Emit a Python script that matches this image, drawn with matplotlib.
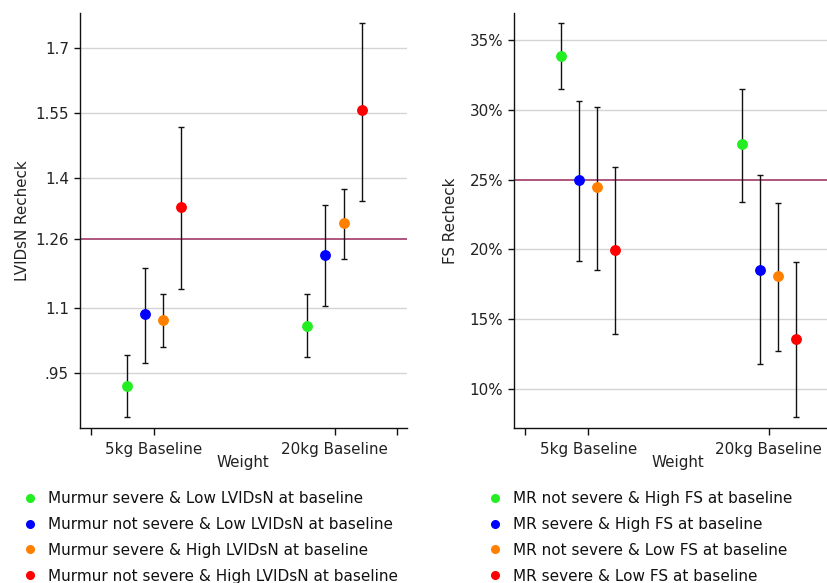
import matplotlib
matplotlib.use("Agg")
import matplotlib.pyplot as plt
from matplotlib.lines import Line2D

plt.rcParams['font.family'] = ['DejaVu Sans']

# ---------------- data ----------------
categories = ["5kg Baseline", "20kg Baseline"]
offsets = [-0.15, -0.05, 0.05, 0.15]
colors = ["#22ee22", "#0000ff", "#ff8000", "#ff0000"]

lv_labels = ["Murmur severe & Low LVIDsN at baseline",
             "Murmur not severe & Low LVIDsN at baseline",
             "Murmur severe & High LVIDsN at baseline",
             "Murmur not severe & High LVIDsN at baseline"]
# per series: [5kg, 20kg]
lv_mean = [[0.919, 1.059], [1.085, 1.223], [1.072, 1.296], [1.334, 1.558]]
lv_low = [[0.847, 0.986], [0.973, 1.105], [1.009, 1.213], [1.144, 1.348]]
lv_high = [[0.992, 1.132], [1.191, 1.339], [1.132, 1.375], [1.518, 1.759]]
lv_ref = 1.26
lv_ticks = [0.95, 1.1, 1.26, 1.4, 1.55, 1.7]
lv_ticklabels = [".95", "1.1", "1.26", "1.4", "1.55", "1.7"]

fs_labels = ["MR not severe & High FS at baseline",
             "MR severe & High FS at baseline",
             "MR not severe & Low FS at baseline",
             "MR severe & Low FS at baseline"]
fs_mean = [[33.86, 27.58], [24.98, 18.56], [24.45, 18.06], [19.98, 13.55]]
fs_low = [[31.5, 23.43], [19.2, 11.79], [18.5, 12.7], [13.93, 8.0]]
fs_high = [[36.19, 31.5], [30.63, 25.34], [30.22, 23.33], [25.9, 19.1]]
fs_ref = 25.0
fs_ticks = [10, 15, 20, 25, 30, 35]
fs_ticklabels = ["10%", "15%", "20%", "25%", "30%", "35%"]

x_title = "Weight"
# ---------------------------------------

W, H = 828, 583
fig = plt.figure(figsize=(W / 100, H / 100), dpi=100)

ax_w = 326.7 / W
ax_bottom = 1 - 428 / H
ax_h = (428 - 13) / H
ax1 = fig.add_axes([80 / W, ax_bottom, ax_w, ax_h])
ax2 = fig.add_axes([514.3 / W, ax_bottom, ax_w, ax_h])

grid_col = "#d4d4d4"
ref_col = "#a23a68"
FS = 10.9


def draw(ax, means, lows, highs, ref, ticks, ticklabels, ylabel, ylim, ylpad):
    ax.set_xlim(0.59, 2.40)
    ax.set_ylim(*ylim)
    for t in ticks:
        if abs(t - ref) > 1e-9:
            ax.axhline(t, color=grid_col, lw=1.0, zorder=0)
    ax.axhline(ref, color=ref_col, lw=1.2, zorder=1)
    xbase = [1, 2]
    for i in range(4):
        xs = [xb + offsets[i] for xb in xbase]
        m = means[i]
        yerr = [[m[j] - lows[i][j] for j in range(2)],
                [highs[i][j] - m[j] for j in range(2)]]
        ax.errorbar(xs, m, yerr=yerr, fmt='none', ecolor='#111111',
                    elinewidth=1.0, capsize=2.3, capthick=1.0, zorder=2)
        ax.plot(xs, m, 'o', color=colors[i], ms=6.8, mec=colors[i], zorder=3)
    ax.set_yticks(ticks)
    ax.set_yticklabels(ticklabels)
    ax.set_xticks([0.652, 1, 2, 2.347])
    ax.set_xticklabels(["", categories[0], categories[1], ""])
    ax.tick_params(axis='both', labelsize=FS, colors='#111111',
                   length=4, width=1, labelcolor='#222222')
    ax.tick_params(axis='x', length=5, pad=5)
    ax.tick_params(axis='y', pad=4)
    for s in ['top', 'right']:
        ax.spines[s].set_visible(False)
    for s in ['left', 'bottom']:
        ax.spines[s].set_color('#111111')
        ax.spines[s].set_linewidth(1.0)
    ax.set_ylabel(ylabel, fontsize=FS, color='#222222', labelpad=ylpad)
    ax.set_xlabel(x_title, fontsize=FS, color='#222222', labelpad=-1)


draw(ax1, lv_mean, lv_low, lv_high, lv_ref, lv_ticks, lv_ticklabels,
     "LVIDsN Recheck", (0.822, 1.782), 3.5)
draw(ax2, fs_mean, fs_low, fs_high, fs_ref, fs_ticks, fs_ticklabels,
     "FS Recheck", (7.21, 36.93), 8)


def legend(labels, x_px):
    handles = [Line2D([], [], ls='none', marker='o', color=c, mec=c, ms=5.5)
               for c in colors]
    fig.legend(handles, labels, loc='upper left',
               bbox_to_anchor=(x_px / W, 1 - 491 / H),
               frameon=False, fontsize=11, handlelength=0.7,
               handletextpad=0.8, labelspacing=0.71, borderpad=0,
               borderaxespad=0, labelcolor='#111111')


legend(lv_labels, 25)
legend(fs_labels, 490)

fig.savefig("out.png", dpi=100)
